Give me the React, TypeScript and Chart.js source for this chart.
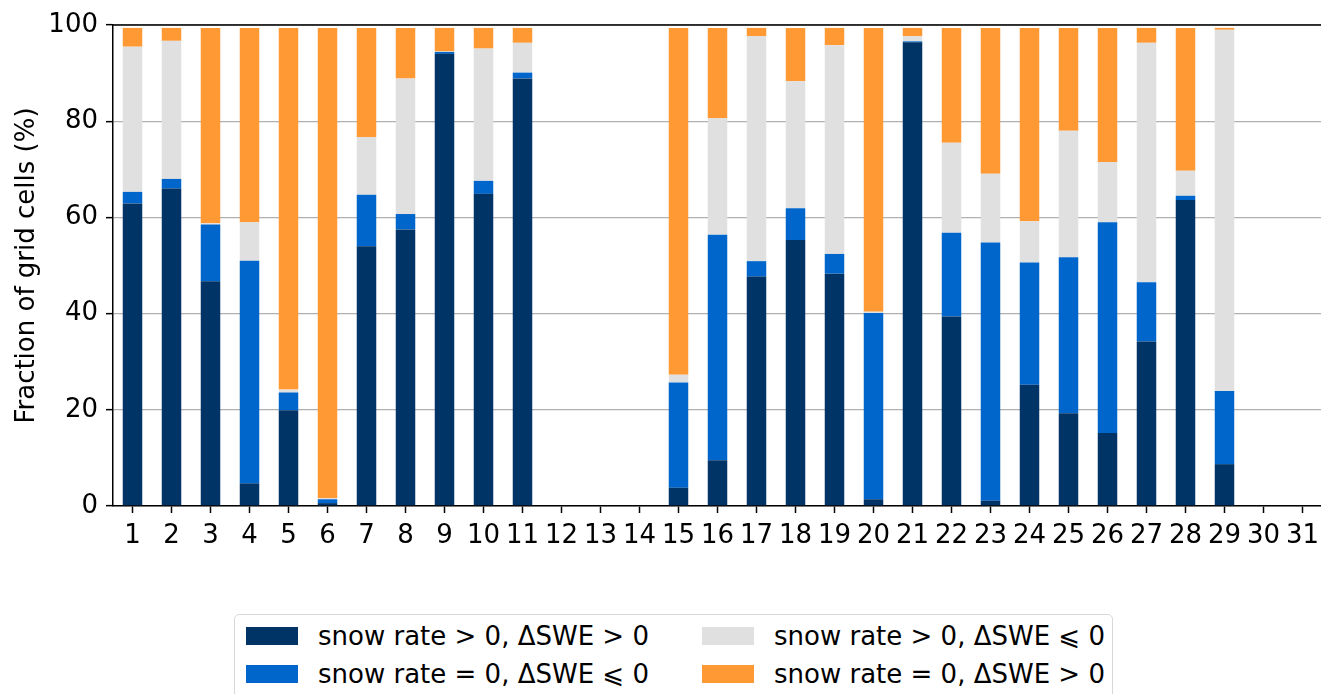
import React, { useEffect, useRef } from "react";
import { Chart, registerables } from "chart.js";

Chart.register(...registerables);

// Day of month
const days: string[] = Array.from({ length: 31 }, (_, i) => String(i + 1));

// Fraction of grid cells (%) per category, days 1–31
const snowPosSwePos: number[] = [
  62.9, 66.0, 46.7, 4.7, 19.9, 0.6, 54.0, 57.5, 94.0, 64.9, 88.9, 0, 0, 0,
  3.8, 9.5, 47.7, 55.3, 48.3, 1.4, 96.4, 39.4, 1.1, 25.2, 19.3, 15.2, 34.2,
  63.6, 8.7, 0, 0,
];
const snowZeroSweNeg: number[] = [
  2.4, 2.0, 11.8, 46.3, 3.7, 0.8, 10.7, 3.2, 0.4, 2.7, 1.2, 0, 0, 0,
  21.9, 46.9, 3.2, 6.6, 4.1, 38.7, 0.2, 17.4, 53.7, 25.4, 32.4, 43.8, 12.3,
  0.9, 15.2, 0, 0,
];
const snowPosSweNeg: number[] = [
  30.2, 28.7, 0.3, 8.0, 0.6, 0.2, 12.0, 28.2, 0.1, 27.5, 6.2, 0, 0, 0,
  1.6, 24.2, 46.8, 26.4, 43.4, 0.3, 1.1, 18.7, 14.3, 8.6, 26.3, 12.5, 49.8,
  5.2, 75.1, 0, 0,
];
const snowZeroSwePos: number[] = [
  3.9, 2.7, 40.6, 40.4, 75.2, 97.8, 22.7, 10.5, 4.9, 4.3, 3.1, 0, 0, 0,
  72.1, 18.8, 1.7, 11.1, 3.6, 59.0, 1.7, 23.9, 30.3, 40.2, 21.4, 27.9, 3.1,
  29.7, 0.4, 0, 0,
];

const yTicks: number[] = [0, 20, 40, 60, 80, 100];

const NAVY = "#003366";
const BLUE = "#0066cc";
const GRAY = "#e0e0e0";
const ORANGE = "#ff9933";

const FONT = "'DejaVu Sans', sans-serif";
const FONT_SIZE = 26;

const seriesLabels = [
  "snow rate > 0, \u0394SWE > 0",
  "snow rate = 0, \u0394SWE \u2a7d 0",
  "snow rate > 0, \u0394SWE \u2a7d 0",
  "snow rate = 0, \u0394SWE > 0",
];

// Draws the top and right spines (the library only draws the left and bottom borders).
const topSpine = {
  id: "topSpine",
  afterDraw(chart: any) {
    const { ctx, chartArea } = chart;
    ctx.save();
    ctx.strokeStyle = "#000";
    ctx.lineWidth = 1.5;
    ctx.beginPath();
    ctx.moveTo(chartArea.left, chartArea.top);
    ctx.lineTo(chartArea.right, chartArea.top);
    ctx.moveTo(chartArea.right, chartArea.top);
    ctx.lineTo(chartArea.right, chartArea.bottom);
    ctx.stroke();
    ctx.restore();
  },
};

function LegendBox() {
  const items = [
    { color: NAVY, label: seriesLabels[0], col: 0, row: 0 },
    { color: GRAY, label: seriesLabels[2], col: 1, row: 0 },
    { color: BLUE, label: seriesLabels[1], col: 0, row: 1 },
    { color: ORANGE, label: seriesLabels[3], col: 1, row: 1 },
  ];
  const colX = [245, 701];
  const rowY = [644, 682];
  return (
    <div
      style={{
        position: "absolute",
        left: 233.5,
        top: 613.5,
        width: 879,
        height: 120,
        border: "1.5px solid #d8d8d8",
        borderRadius: 5,
        background: "#fff",
        boxSizing: "border-box",
      }}
    >
      {items.map((it, i) => (
        <React.Fragment key={i}>
          <div
            style={{
              position: "absolute",
              left: colX[it.col] - 233.5,
              top: rowY[it.row] - 18 - 613.5,
              width: 52,
              height: 18,
              background: it.color,
            }}
          />
          <span
            style={{
              position: "absolute",
              left: colX[it.col] + 72 - 233.5,
              top: rowY[it.row] - 24.5 - 613.5,
              font: `${FONT_SIZE}px ${FONT}`,
              lineHeight: "31px",
              color: "#000",
              whiteSpace: "nowrap",
            }}
          >
            {it.label}
          </span>
        </React.Fragment>
      ))}
    </div>
  );
}

export default function App() {
  const canvasRef = useRef<HTMLCanvasElement | null>(null);

  useEffect(() => {
    if (!canvasRef.current) return;
    const chart = new Chart(canvasRef.current, {
      type: "bar",
      data: {
        labels: days,
        datasets: [
          { label: seriesLabels[0], data: snowPosSwePos, backgroundColor: NAVY },
          { label: seriesLabels[1], data: snowZeroSweNeg, backgroundColor: BLUE },
          { label: seriesLabels[2], data: snowPosSweNeg, backgroundColor: GRAY },
          { label: seriesLabels[3], data: snowZeroSwePos, backgroundColor: ORANGE },
        ],
      },
      options: {
        responsive: false,
        animation: false,
        devicePixelRatio: 1,
        datasets: {
          bar: { barPercentage: 0.5, categoryPercentage: 1.0, borderWidth: 0 },
        },
        layout: { padding: { top: 25, right: 0, bottom: 0, left: 0 } },
        plugins: {
          legend: { display: false },
          tooltip: { enabled: false },
        },
        scales: {
          x: {
            stacked: true,
            offset: true,
            grid: {
              offset: false,
              drawOnChartArea: false,
              tickLength: 7,
              tickColor: "#000",
              tickWidth: 1.5,
            },
            border: { color: "#000", width: 1.5 },
            ticks: {
              color: "#000",
              font: { family: FONT, size: FONT_SIZE },
              padding: 8,
              maxRotation: 0,
              autoSkip: false,
            },
            afterFit(scale: any) {
              scale.height = 694 - 506;
              scale.paddingLeft = 0;
              scale.paddingRight = 0;
            },
          },
          y: {
            stacked: true,
            min: 0,
            max: 100,
            afterBuildTicks(scale: any) {
              scale.ticks = yTicks.map((v) => ({ value: v }));
            },
            grid: {
              color: "#b0b0b0",
              lineWidth: 1.3,
              tickLength: 7,
              tickColor: "#000",
              tickWidth: 1.5,
            },
            border: { color: "#000", width: 1.5 },
            ticks: {
              color: "#000",
              font: { family: FONT, size: FONT_SIZE },
              padding: 8,
            },
            title: {
              display: true,
              text: "Fraction of grid cells (%)",
              color: "#000",
              font: { family: FONT, size: FONT_SIZE },
              padding: { top: 12, bottom: 0 },
            },
            afterFit(scale: any) {
              scale.width = 113;
            },
          },
        },
      },
      plugins: [topSpine],
    });
    return () => chart.destroy();
  }, []);

  return (
    <div
      style={{
        position: "absolute",
        left: 0,
        top: 0,
        width: 1321,
        height: 694,
        overflow: "hidden",
        background: "#fff",
      }}
    >
      <canvas ref={canvasRef} width={1322} height={694} style={{ display: "block" }} />
      <LegendBox />
    </div>
  );
}
